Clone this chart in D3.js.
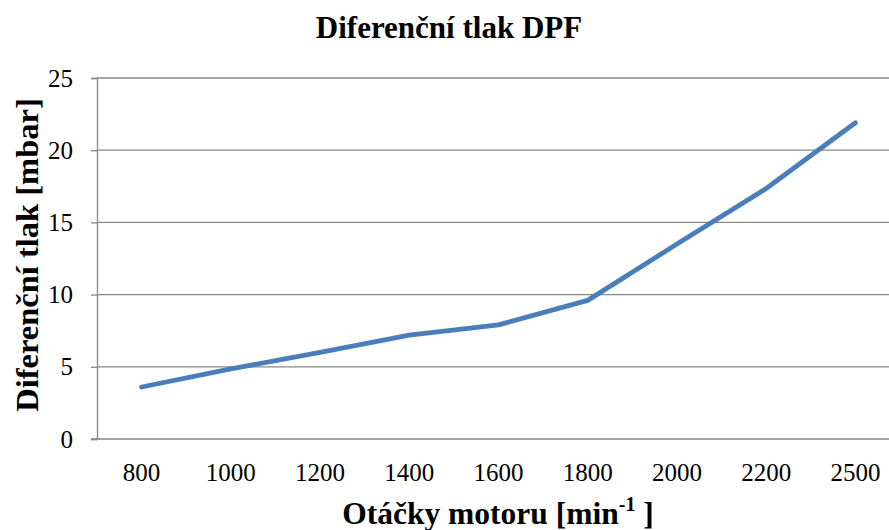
<!DOCTYPE html>
<html>
<head>
<meta charset="utf-8">
<script src="https://cdn.jsdelivr.net/npm/d3@7"></script>
<style>
  body { margin: 0; background: #fff; }
</style>
</head>
<body>
<div id="chart"></div>
<script>
const width = 889, height = 530;
const serif = '"Liberation Serif", "Times New Roman", serif';

// data
const rpm = ['800', '1000', '1200', '1400', '1600', '1800', '2000', '2200', '2500'];
const pressure = [3.6, 4.85, 6.0, 7.2, 7.9, 9.6, 13.5, 17.35, 21.9];
const yTicks = [0, 5, 10, 15, 20, 25];

const plot = {left: 97, right: 900, top: 78, bottom: 439};

const x = d3.scaleBand()
  .domain(rpm)
  .range([plot.left, plot.right]);

const y = d3.scaleLinear()
  .domain([0, 25])
  .range([plot.bottom, plot.top]);

const svg = d3.select('#chart').append('svg')
  .attr('width', width)
  .attr('height', height)
  .attr('font-family', serif);

// gridlines
svg.append('g')
  .selectAll('line')
  .data(yTicks.filter(d => d > 0))
  .enter().append('line')
    .attr('x1', plot.left)
    .attr('x2', width)
    .attr('y1', d => y(d))
    .attr('y2', d => y(d))
    .attr('stroke', '#878787')
    .attr('stroke-width', 1.3);

// y axis
const yAxis = svg.append('g')
  .attr('transform', `translate(${plot.left},0)`)
  .call(d3.axisLeft(y).tickValues(yTicks).tickSize(6).tickPadding(18))
  .attr('font-family', serif)
  .attr('font-size', 25);
yAxis.select('.domain').attr('stroke', '#878787').attr('stroke-width', 1.3);
yAxis.selectAll('.tick line').attr('stroke', '#878787').attr('stroke-width', 1.3);
yAxis.selectAll('.tick text').attr('fill', '#000');

// x axis
const xAxis = svg.append('g')
  .attr('transform', `translate(0,${plot.bottom})`)
  .call(d3.axisBottom(x).tickSize(0).tickPadding(24))
  .attr('font-family', serif)
  .attr('font-size', 25);
xAxis.select('.domain').remove();
xAxis.selectAll('.tick text').attr('fill', '#000');
svg.append('line')
  .attr('x1', plot.left - 6).attr('x2', width)
  .attr('y1', plot.bottom).attr('y2', plot.bottom)
  .attr('stroke', '#878787').attr('stroke-width', 1.3);

// the series line
const line = d3.line()
  .x((d, i) => x(rpm[i]) + x.bandwidth() / 2)
  .y(d => y(d));

svg.append('path')
  .datum(pressure)
  .attr('d', line)
  .attr('fill', 'none')
  .attr('stroke', '#4a7ebb')
  .attr('stroke-width', 4.8)
  .attr('stroke-linejoin', 'round')
  .attr('stroke-linecap', 'round');

// titles
svg.append('text')
  .attr('x', 449).attr('y', 38)
  .attr('text-anchor', 'middle')
  .attr('font-size', 31)
  .attr('font-weight', 'bold')
  .text('Diferenční tlak DPF');

svg.append('text')
  .attr('transform', 'translate(38,255) rotate(-90)')
  .attr('text-anchor', 'middle')
  .attr('font-size', 32.5)
  .attr('font-weight', 'bold')
  .text('Diferenční tlak [mbar]');

const xt = svg.append('text')
  .attr('x', 498).attr('y', 524)
  .attr('text-anchor', 'middle')
  .attr('font-size', 31.5)
  .attr('font-weight', 'bold');
xt.append('tspan').text('Otáčky motoru [min');
xt.append('tspan').attr('dy', -13).attr('font-size', 20).text('-1');
xt.append('tspan').attr('dy', 13).text(' ]');
</script>
</body>
</html>
